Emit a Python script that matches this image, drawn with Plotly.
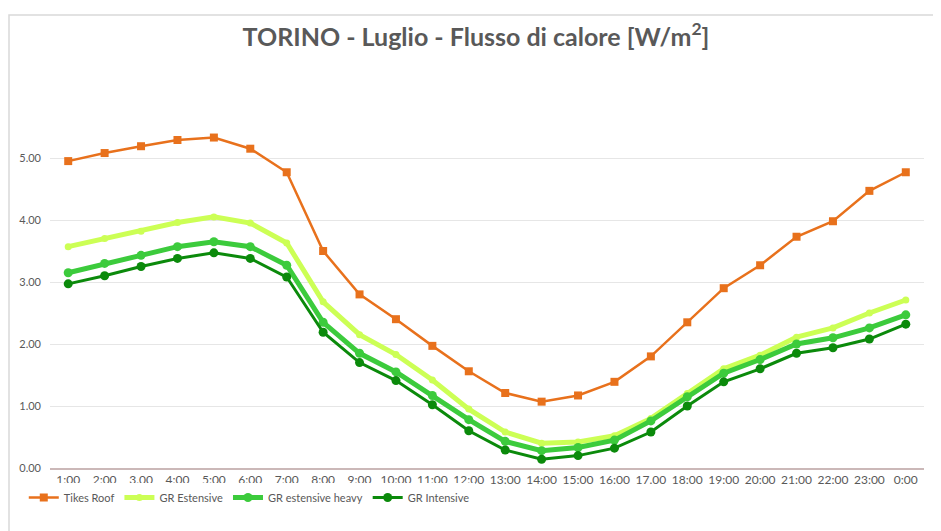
import plotly.graph_objects as go

hours = ["1:00", "2:00", "3.00", "4:00", "5:00", "6:00", "7:00", "8:00", "9:00", "10:00",
         "11:00", "12:00", "13:00", "14:00", "15:00", "16:00", "17.00", "18:00", "19:00",
         "20:00", "21:00", "22:00", "23:00", "0:00"]

tikes_roof = [4.95, 5.08, 5.19, 5.29, 5.33, 5.15, 4.77, 3.50, 2.80, 2.40, 1.97, 1.56,
              1.21, 1.07, 1.17, 1.39, 1.80, 2.35, 2.90, 3.27, 3.73, 3.98, 4.47, 4.77]
gr_estensive = [3.57, 3.70, 3.82, 3.96, 4.05, 3.95, 3.63, 2.68, 2.15, 1.83, 1.42, 0.95,
                0.58, 0.40, 0.42, 0.52, 0.80, 1.20, 1.60, 1.82, 2.11, 2.26, 2.50, 2.71]
gr_est_heavy = [3.15, 3.30, 3.43, 3.57, 3.65, 3.57, 3.27, 2.35, 1.85, 1.55, 1.17, 0.78,
                0.43, 0.28, 0.33, 0.45, 0.76, 1.15, 1.53, 1.75, 2.00, 2.10, 2.26, 2.47]
gr_intensive = [2.97, 3.10, 3.25, 3.38, 3.47, 3.38, 3.08, 2.19, 1.70, 1.41, 1.02, 0.60,
                0.29, 0.14, 0.20, 0.32, 0.58, 1.00, 1.39, 1.60, 1.85, 1.94, 2.08, 2.32]

fig = go.Figure()
fig.add_trace(go.Scatter(x=hours, y=tikes_roof, name="Tikes Roof", mode="lines+markers",
                         line=dict(color="#E8711C", width=2.5),
                         marker=dict(symbol="square", size=8, color="#E8711C")))
fig.add_trace(go.Scatter(x=hours, y=gr_estensive, name="GR Estensive", mode="lines+markers",
                         line=dict(color="#CCFF55", width=5),
                         marker=dict(symbol="circle", size=7, color="#CCFF55")))
fig.add_trace(go.Scatter(x=hours, y=gr_est_heavy, name="GR estensive heavy", mode="lines+markers",
                         line=dict(color="#3CCB3C", width=5),
                         marker=dict(symbol="circle", size=9, color="#3CCB3C")))
fig.add_trace(go.Scatter(x=hours, y=gr_intensive, name="GR Intensive", mode="lines+markers",
                         line=dict(color="#0B8A0B", width=3),
                         marker=dict(symbol="circle", size=9, color="#0B8A0B")))

# cornice grigia del grafico (la pagina ha 8px di margine)
fig.add_shape(type="rect", xref="paper", yref="paper",
              x0=(1 - 42) / 874, x1=(932 - 42) / 874, y0=(460 - 540) / 372, y1=(460 - 7) / 372,
              line=dict(color="#D9D9D9", width=1.5), layer="below")

fig.update_layout(
    width=933, height=523,
    paper_bgcolor="white", plot_bgcolor="white",
    margin=dict(l=42, r=17, t=88, b=63, autoexpand=False),
    font=dict(family="Lato, 'Open Sans', sans-serif", color="#595959", size=11),
    title=dict(text="<b>TORINO - Luglio - Flusso di calore [W/m<sup>2</sup>]</b>",
               x=0.5016, xanchor="center", y=0.9446, yanchor="middle",
               font=dict(size=25, color="#595959", family="Lato, 'Open Sans', sans-serif")),
    xaxis=dict(range=[-0.5, len(hours) - 0.5], showgrid=False, showline=True,
               linecolor="#CBB8B8", linewidth=1.5,
               ticks="", tickfont=dict(size=12, color="#595959")),
    yaxis=dict(range=[0, 6], tickvals=[0, 1, 2, 3, 4, 5], tickformat=".2f",
               showgrid=True, gridcolor="#E6E6E6", zeroline=False, showline=False,
               ticklabelstandoff=8,
               tickfont=dict(size=11, color="#595959")),
    legend=dict(orientation="h", x=-0.03, xanchor="left", yref="container", y=0.0918, yanchor="top",
                font=dict(size=11, color="#595959"), itemwidth=30, tracegroupgap=0),
    showlegend=True,
)

fig.write_html("out.html")
